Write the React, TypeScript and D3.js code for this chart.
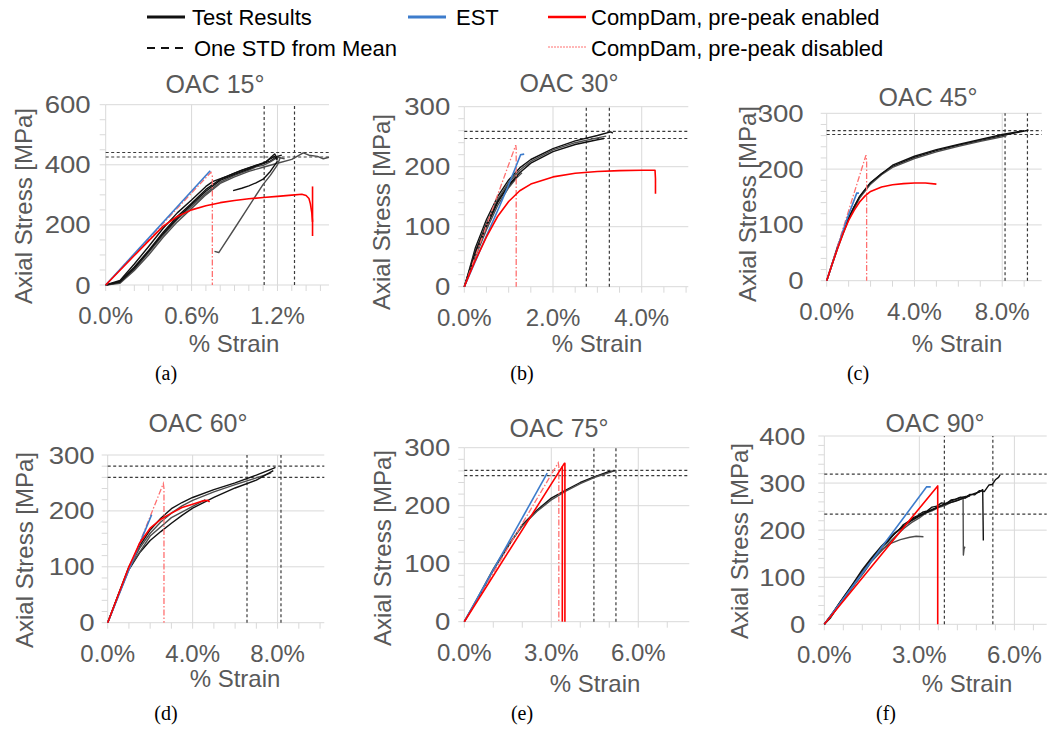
import React from "react";
import * as d3 from "d3";

type P = [number, number];

// ---------- Panel (a) OAC 15° ----------
const A_tests: P[][] = [
  [[0,0],[0.1,12],[0.2,60],[0.3,115],[0.4,175],[0.5,228],[0.6,272],[0.7,318],[0.8,352],[0.9,372],[1.0,390],[1.05,398],[1.1,405],[1.15,412],[1.2,428],[1.23,432]],
  [[0,0],[0.1,8],[0.2,52],[0.3,108],[0.4,165],[0.5,218],[0.6,262],[0.7,305],[0.8,342],[0.9,365],[1.0,382],[1.05,393],[1.1,398],[1.15,410],[1.2,425],[1.25,420]],
  [[0,0],[0.1,15],[0.2,70],[0.3,128],[0.4,188],[0.5,240],[0.6,283],[0.7,328],[0.75,345],[0.85,362],[0.95,382],[1.05,398],[1.12,410],[1.18,436],[1.2,420]],
  [[0,0],[0.1,6],[0.2,48],[0.3,100],[0.4,158],[0.5,210],[0.6,255],[0.7,300],[0.8,338],[0.9,360],[1.0,378],[1.1,392],[1.2,405],[1.3,418],[1.38,440],[1.42,432],[1.48,428],[1.52,420],[1.56,425]],
  [[0,0],[0.1,10],[0.2,56],[0.3,112],[0.4,170],[0.5,222],[0.6,268],[0.7,312],[0.8,348],[0.9,368],[1.0,386],[1.05,396],[1.1,404],[1.15,420],[1.18,428],[1.2,415]],
  [[0.76,112],[0.79,108],[0.9,188],[1.0,262],[1.1,335],[1.15,365],[1.2,400],[1.22,425]],
  [[0.89,314],[0.95,322],[1.0,330],[1.05,340],[1.1,352],[1.15,378],[1.2,412]],
];
const A_est: P[] = [[0,0],[0.73,380]];
const A_cdE: P[][] = [
  [[0,0],[0.1,49],[0.2,98],[0.3,147],[0.4,195],[0.5,228],[0.6,250],[0.7,264],[0.8,274],[0.9,281],[1.0,287],[1.1,291],[1.2,295],[1.3,299],[1.37,302],[1.4,298],[1.42,288],[1.43,270],[1.44,240],[1.445,210]],
  [[1.445,328],[1.445,163]],
];
const A_cdD: P[] = [[0,0],[0.735,375],[0.745,362],[0.745,0]];
const A_stdY = [426, 441];
const A_stdX = [1.107, 1.319];

// ---------- Panel (b) OAC 30° ----------
const B_tests: P[][] = [
  [[0,0],[0.1,25],[0.25,65],[0.5,112],[0.75,150],[1.0,178],[1.25,198],[1.5,212],[2.0,230],[2.5,243],[3.0,252],[3.3,258],[3.35,256]],
  [[0,0],[0.1,22],[0.25,60],[0.5,106],[0.75,145],[1.0,174],[1.25,194],[1.5,209],[2.0,228],[2.5,240],[3.0,248],[3.2,251]],
  [[0,0],[0.1,20],[0.25,55],[0.5,100],[0.75,140],[1.0,170],[1.25,190],[1.5,206],[2.0,225],[2.5,237],[3.0,245],[3.15,247]],
  [[0,0],[0.25,50],[0.5,95],[0.75,135],[1.0,165],[1.2,183],[1.3,190]],
  [[0,0],[0.25,58],[0.5,103],[0.75,142],[1.0,168],[1.2,185]],
];
const B_est: P[] = [[0,0],[0.5,85],[0.8,135],[1.0,170],[1.2,207],[1.27,220],[1.35,221]];
const B_cdE: P[][] = [
  [[0,0],[0.1,18],[0.25,44],[0.5,83],[0.75,117],[1.0,142],[1.25,160],[1.5,171],[2.0,183],[2.5,189],[3.0,192],[3.5,193.5],[4.0,194],[4.3,194],[4.31,180],[4.31,155]],
];
const B_cdD: P[] = [[0,0],[1.16,236],[1.17,230],[1.17,0]];
const B_stdY = [247, 259];
const B_stdX = [2.75, 3.27];

// ---------- Panel (c) OAC 45° ----------
const C_tests: P[][] = [
  [[0,0],[0.25,30],[0.5,60],[0.75,88],[1.0,112],[1.25,133],[1.5,150],[1.75,163],[2.0,175],[2.5,192],[3.0,205],[4.0,221],[5.0,233],[6.0,243],[7.0,251],[8.0,260],[8.5,264],[9.0,268],[9.2,270]],
  [[0,0],[0.5,58],[1.0,110],[1.5,148],[2.0,173],[2.5,190],[3.0,203],[4.0,219],[5.0,231],[6.0,241],[7.0,250],[8.0,258],[8.2,260]],
  [[0,0],[0.5,62],[1.0,113],[1.5,151],[2.0,176],[3.0,207],[4.0,223],[5.0,235],[6.0,244],[7.0,253],[8.0,262],[9.0,269]],
];
const C_est: P[] = [[0,0],[0.9,108],[1.37,157],[1.47,157]];
const C_cdE: P[][] = [
  [[0,0],[0.25,30],[0.5,58],[0.75,85],[1.0,108],[1.25,126],[1.5,141],[1.75,152],[2.0,160],[2.5,168],[3.0,172],[3.5,174],[4.0,175],[4.5,175],[5.0,173]],
];
const C_cdD: P[] = [[0,0],[1.79,225],[1.82,215],[1.82,0]];
const C_stdY = [262, 269];
const C_stdX = [8.13, 9.15];

// ---------- Panel (d) OAC 60° ----------
const D_tests: P[][] = [
  [[0,0],[0.5,50],[1.0,100],[1.5,137],[2.0,166],[2.5,187],[3.0,204],[3.5,215],[4.0,224],[5.0,238],[6.0,250],[7.0,264],[7.8,276],[7.9,278]],
  [[0,0],[0.5,50],[1.0,98],[1.5,133],[2.0,160],[2.5,180],[3.0,196],[3.5,209],[4.0,219],[5.0,234],[6.0,247],[7.0,259],[7.7,268]],
  [[0,0],[0.5,49],[1.0,95],[1.5,125],[2.0,147],[2.5,163],[3.0,178],[3.5,192],[4.0,205],[5.0,224],[6.0,241],[7.0,255],[7.8,272]],
  [[0,0],[1.0,97],[2.0,155],[3.0,188],[4.0,208],[4.6,220]],
];
const D_est: P[] = [[0,0],[1.0,95],[2.07,193]];
const D_cdE: P[][] = [
  [[0,0],[0.5,50],[1.0,100],[1.5,142],[2.0,169],[2.5,185],[3.0,196],[3.5,206],[4.0,212],[4.5,218],[4.7,219],[4.8,216]],
];
const D_cdD: P[] = [[0,0],[2.62,249],[2.65,240],[2.65,0]];
const D_stdY = [260, 280];
const D_stdX = [6.56, 8.16];

// ---------- Panel (e) OAC 75° ----------
const E_tests: P[][] = [
  [[0,0],[0.5,43],[1.0,89],[1.5,129],[2.0,167],[2.5,192],[3.0,213],[3.5,227],[4.0,240],[4.5,250],[5.0,259],[5.2,260]],
  [[0,0],[0.5,45],[1.0,91],[1.5,131],[2.0,165],[2.5,190],[3.0,210],[3.5,225],[4.0,238],[4.5,249],[5.0,257],[5.1,259]],
];
const E_est: P[] = [[0,0],[2.86,256]];
const E_cdE: P[][] = [
  [[0,0],[3.45,273],[3.47,273],[3.47,0]],
  [[3.38,268],[3.38,0]],
];
const E_cdD: P[] = [[0,0],[3.24,274],[3.26,268],[3.26,0]];
const E_stdY = [252, 261];
const E_stdX = [4.47, 5.23];

// ---------- Panel (f) OAC 90° ----------
const F_tests: P[][] = [
  [[0,0],[0.2,14],[0.4,35],[0.6,52],[0.8,73],[1.0,90],[1.2,112],[1.4,128],[1.6,146],[1.8,163],[2.0,176],[2.2,192],[2.35,200],[2.5,212],[2.65,218],[2.8,226],[2.95,231],[3.1,238],[3.25,241],[3.4,249],[3.55,251],[3.7,258],[3.85,256],[4.0,264],[4.15,266],[4.3,270],[4.45,268],[4.6,276],[4.75,275],[4.9,284],[5.05,282],[5.2,296],[5.3,297],[5.4,307],[5.5,312],[5.55,318]],
  [[0,0],[0.25,20],[0.5,44],[0.75,66],[1.0,88],[1.25,110],[1.5,134],[1.75,152],[2.0,170],[2.25,187],[2.5,203],[2.75,216],[3.0,226],[3.2,236],[3.4,241],[3.6,248],[3.8,252],[4.0,259],[4.15,262],[4.3,266],[4.38,270],[4.39,147],[4.41,160],[4.44,165]],
  [[0,0],[0.25,22],[0.5,47],[0.75,70],[1.0,94],[1.25,117],[1.5,140],[1.75,160],[2.0,176],[2.25,195],[2.5,208],[2.75,222],[3.0,231],[3.25,240],[3.5,246],[3.75,254],[4.0,262],[4.25,268],[4.5,272],[4.75,278],[4.9,281],[5.0,286],[5.02,178]],
  [[0,0],[0.3,26],[0.6,55],[0.9,84],[1.2,112],[1.5,138],[1.8,158],[2.1,172],[2.4,180],[2.7,185],[2.9,187],[3.13,186]],
  [[0,0],[0.3,28],[0.6,57],[0.9,86],[1.2,116],[1.5,142],[1.8,166],[2.1,186],[2.4,203],[2.7,218],[3.0,230],[3.3,240],[3.6,250],[3.9,257],[4.2,263],[4.4,268],[4.6,273]],
];
const F_est: P[] = [[0,0],[3.23,292],[3.36,292]];
const F_cdE: P[][] = [[[0,0],[3.58,294],[3.58,0]]];
const F_cdD: P[] = [];
const F_stdY = [234, 319];
const F_stdX = [3.79, 5.32];

// ---------- Legend ----------
const legendItems = [
  { label: "Test Results", kind: "test" },
  { label: "One STD from Mean", kind: "std" },
  { label: "EST", kind: "est" },
  { label: "CompDam, pre-peak enabled", kind: "cdE" },
  { label: "CompDam, pre-peak disabled", kind: "cdD" },
];

const COLORS = {
  test: "#111111",
  test2: "#4d4d4d",
  est: "#3d7ccc",
  cdE: "#ff0000",
  cdD: "#ff7070",
  std: "#3a3a3a",
  grid: "#d9d9d9",
  label: "#595959",
};

interface PanelCfg {
  title: string; caption: string;
  left: number; right: number; top: number; bottom: number;
  xMax: number; yMax: number; xMajor: number; xMinor: number; yMajor: number; yMinor: number;
  tests: P[][]; est: P[]; cdE: P[][]; cdD: P[]; stdY: number[]; stdX: number[];
  titleX: number; titleY: number; xtX: number; xtY: number; ytX: number; ytY: number;
  yGap: number; capX: number; capY: number;
}

const panels: PanelCfg[] = [
  { title: "OAC 15°", caption: "(a)", left: 105.7, right: 329, top: 104.7, bottom: 285, xMax: 1.56, yMax: 600, xMajor: 0.6, xMinor: 0.1, yMajor: 200, yMinor: 50,
    tests: A_tests, est: A_est, cdE: A_cdE, cdD: A_cdD, stdY: A_stdY, stdX: A_stdX,
    titleX: 215, titleY: 93, xtX: 234, xtY: 352, ytX: 32, ytY: 206, yGap: 15, capX: 166, capY: 380 },
  { title: "OAC 30°", caption: "(b)", left: 464.3, right: 688.3, top: 106.7, bottom: 286.7, xMax: 5.05, yMax: 300, xMajor: 2, xMinor: 0.5, yMajor: 100, yMinor: 20,
    tests: B_tests, est: B_est, cdE: B_cdE, cdD: B_cdD, stdY: B_stdY, stdX: B_stdX,
    titleX: 569, titleY: 92, xtX: 597, xtY: 352, ytX: 390, ytY: 212, yGap: 14, capX: 522, capY: 380 },
  { title: "OAC 45°", caption: "(c)", left: 826.7, right: 1041.7, top: 113.3, bottom: 280.7, xMax: 9.8, yMax: 300, xMajor: 4, xMinor: 1, yMajor: 100, yMinor: 20,
    tests: C_tests, est: C_est, cdE: C_cdE, cdD: C_cdD, stdY: C_stdY, stdX: C_stdX,
    titleX: 928, titleY: 106, xtX: 957, xtY: 352, ytX: 756, ytY: 204, yGap: 23, capX: 858, capY: 380 },
  { title: "OAC 60°", caption: "(d)", left: 107.7, right: 324.3, top: 455, bottom: 622.7, xMax: 10.2, yMax: 300, xMajor: 4, xMinor: 1, yMajor: 100, yMinor: 20,
    tests: D_tests, est: D_est, cdE: D_cdE, cdD: D_cdD, stdY: D_stdY, stdX: D_stdX,
    titleX: 198, titleY: 432, xtX: 235, xtY: 687, ytX: 33, ytY: 550, yGap: 13, capX: 166, capY: 720 },
  { title: "OAC 75°", caption: "(e)", left: 464.3, right: 689.3, top: 447.7, bottom: 621.7, xMax: 7.76, yMax: 300, xMajor: 3, xMinor: 1, yMajor: 100, yMinor: 20,
    tests: E_tests, est: E_est, cdE: E_cdE, cdD: E_cdD, stdY: E_stdY, stdX: E_stdX,
    titleX: 559, titleY: 437, xtX: 595, xtY: 692, ytX: 391, ytY: 548, yGap: 14, capX: 522, capY: 720 },
  { title: "OAC 90°", caption: "(f)", left: 824.3, right: 1046.7, top: 436, bottom: 624.3, xMax: 7.02, yMax: 400, xMajor: 3, xMinor: 0.6, yMajor: 100, yMinor: 20,
    tests: F_tests, est: F_est, cdE: F_cdE, cdD: F_cdD, stdY: F_stdY, stdX: F_stdX,
    titleX: 935, titleY: 432, xtX: 967, xtY: 692, ytX: 748, ytY: 541, yGap: 19, capX: 886, capY: 720 },
];

const SANS = "'Liberation Sans', Arial, sans-serif";
const SERIF = "'Liberation Serif', 'Times New Roman', serif";

function steps(max: number, step: number): number[] {
  const n = Math.floor(max / step + 1e-6);
  return d3.range(0, n + 1).map((i) => +(i * step).toFixed(6));
}

function Panel({ p }: { p: PanelCfg }) {
  const x = d3.scaleLinear().domain([0, p.xMax]).range([p.left, p.right]);
  const y = d3.scaleLinear().domain([0, p.yMax]).range([p.bottom, p.top]);
  const line = d3.line<P>().x((d) => x(d[0])).y((d) => y(d[1]));
  const xMaj = steps(p.xMax, p.xMajor);
  const xMin = steps(p.xMax, p.xMinor);
  const yMaj = steps(p.yMax, p.yMajor);
  const yMin = steps(p.yMax, p.yMinor);
  const fmt = d3.format(".1f");
  return (
    <g>
      {/* minor ticks */}
      {yMin.map((v, i) => (
        <line key={"ym" + i} x1={p.left - 6} x2={p.left} y1={y(v)} y2={y(v)} stroke={COLORS.grid} strokeWidth={1} />
      ))}
      {xMin.map((v, i) => (
        <line key={"xm" + i} x1={x(v)} x2={x(v)} y1={p.bottom} y2={p.bottom + 6} stroke={COLORS.grid} strokeWidth={1} />
      ))}
      {/* grid */}
      {yMaj.map((v, i) => (
        <line key={"yg" + i} x1={p.left} x2={p.right} y1={y(v)} y2={y(v)} stroke={COLORS.grid} strokeWidth={1} />
      ))}
      {xMaj.map((v, i) => (
        <line key={"xg" + i} x1={x(v)} x2={x(v)} y1={p.bottom} y2={p.top} stroke={COLORS.grid} strokeWidth={1} />
      ))}
      {/* tick labels */}
      {yMaj.map((v, i) => (
        <text key={"yl" + i} transform={`translate(${p.left - p.yGap},${y(v) + 8.5}) scale(1.15,1)`} textAnchor="end" fontFamily={SANS} fontSize={24} fill={COLORS.label}>{v}</text>
      ))}
      {xMaj.map((v, i) => (
        <text key={"xl" + i} x={x(v)} y={p.bottom + 39} textAnchor="middle" fontFamily={SANS} fontSize={24} fill={COLORS.label}>{fmt(v) + "%"}</text>
      ))}
      {/* axis titles */}
      <text x={p.xtX} y={p.xtY} textAnchor="middle" fontFamily={SANS} fontSize={24} fill={COLORS.label}>% Strain</text>
      <text transform={`translate(${p.ytX},${p.ytY}) rotate(-90)`} textAnchor="middle" fontFamily={SANS} fontSize={24} fill={COLORS.label}>Axial Stress [MPa]</text>
      <text x={p.titleX} y={p.titleY} textAnchor="middle" fontFamily={SANS} fontSize={25} fill={COLORS.label}>{p.title}</text>
      {/* std lines */}
      {p.stdY.map((v, i) => (
        <line key={"sy" + i} x1={p.left} x2={p.right} y1={y(v)} y2={y(v)} stroke={COLORS.std} strokeWidth={1.2} strokeDasharray="3,2.5" />
      ))}
      {p.stdX.map((v, i) => (
        <line key={"sx" + i} x1={x(v)} x2={x(v)} y1={p.bottom} y2={p.top} stroke={COLORS.std} strokeWidth={1.2} strokeDasharray="3,2.5" />
      ))}
      {/* curves */}
      {p.tests.map((c, i) => (
        <path key={"t" + i} d={line(c) || ""} fill="none" stroke={i % 2 === 0 ? COLORS.test : COLORS.test2} strokeWidth={1.4} strokeLinejoin="round" />
      ))}
      {p.cdD.length > 0 && (
        <path d={line(p.cdD) || ""} fill="none" stroke={COLORS.cdD} strokeWidth={1.3} strokeDasharray="6,2,1.5,2" />
      )}
      <path d={line(p.est) || ""} fill="none" stroke={COLORS.est} strokeWidth={1.6} />
      {p.cdE.map((c, i) => (
        <path key={"r" + i} d={line(c) || ""} fill="none" stroke={COLORS.cdE} strokeWidth={1.6} strokeLinejoin="round" />
      ))}
      <text x={p.capX} y={p.capY} textAnchor="middle" fontFamily={SERIF} fontSize={20} fill="#000">{p.caption}</text>
    </g>
  );
}

function Legend() {
  const pos: Record<string, { lx: number; ly: number; tx: number; ty: number }> = {
    test: { lx: 147, ly: 17, tx: 192, ty: 25 },
    std: { lx: 147, ly: 48, tx: 194, ty: 56 },
    est: { lx: 408, ly: 17, tx: 456, ty: 25 },
    cdE: { lx: 548, ly: 17, tx: 591, ty: 25 },
    cdD: { lx: 548, ly: 47, tx: 591, ty: 56 },
  };
  return (
    <g>
      {legendItems.map((it) => {
        const q = pos[it.kind];
        const common = { x1: q.lx, x2: q.lx + 38, y1: q.ly, y2: q.ly };
        let el;
        if (it.kind === "test") el = <line {...common} stroke="#111" strokeWidth={3} />;
        else if (it.kind === "std") el = <line {...common} stroke="#111" strokeWidth={2} strokeDasharray="8,6" />;
        else if (it.kind === "est") el = <line {...common} stroke={COLORS.est} strokeWidth={3} />;
        else if (it.kind === "cdE") el = <line {...common} stroke={COLORS.cdE} strokeWidth={2.5} />;
        else el = <line {...common} stroke={COLORS.cdD} strokeWidth={1} strokeDasharray="2,1" />;
        return (
          <g key={it.kind}>
            {el}
            <text x={q.tx} y={q.ty} fontFamily={SANS} fontSize={22} fill="#000">{it.label}</text>
          </g>
        );
      })}
    </g>
  );
}

export default function App() {
  return (
    <svg width={1048} height={730} style={{ position: "absolute", left: 0, top: 0, background: "#fff" }}>
      <rect x={0} y={0} width={1048} height={730} fill="#fff" />
      <Legend />
      {panels.map((p) => (
        <Panel key={p.caption} p={p} />
      ))}
    </svg>
  );
}
